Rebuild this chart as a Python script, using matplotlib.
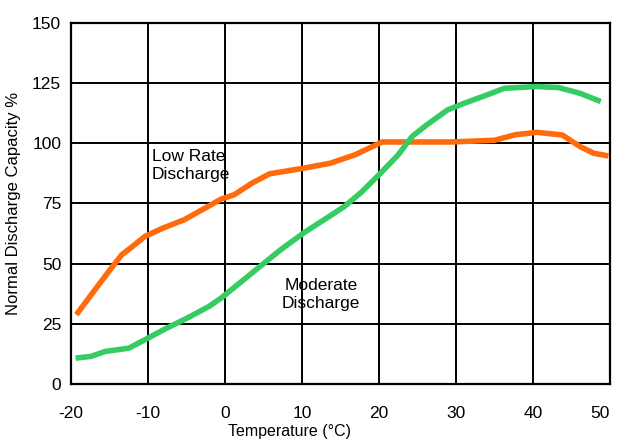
import numpy as np
import matplotlib
matplotlib.use("Agg")
import matplotlib.pyplot as plt

plt.rcParams['font.family'] = ['Liberation Sans', 'DejaVu Sans']
plt.rcParams['axes.unicode_minus'] = False

# capacity vs temperature
low_temp = [-19.3, -16.9, -14.6, -13.4, -12.3, -10.4, -8.1, -5.3, -3.0, -0.5, 1.2, 3.5, 5.8,
            10.2, 13.7, 16.9, 20.4, 24.8, 29.4, 35.0, 37.7, 40.5, 43.8, 46.1, 47.9, 49.8]
low_cap = [28.8, 39.1, 48.8, 53.7, 56.4, 61.3, 64.7, 68.2, 72.3, 76.8, 78.6, 83.4, 87.3,
           89.6, 91.7, 95.2, 100.5, 100.5, 100.5, 101.2, 103.5, 104.5, 103.4, 98.6, 95.8, 94.7]

mod_temp = [-19.4, -17.4, -15.5, -12.5, -10.4, -7.6, -4.9, -2.1, -0.5, 3.5, 7.2, 10.2, 13.2,
            15.5, 17.8, 20.4, 22.5, 24.3, 26.2, 28.9, 31.1, 34.0, 36.3, 40.5, 43.3, 46.1, 48.8]
mod_cap = [10.8, 11.5, 13.6, 14.9, 18.4, 23.2, 27.4, 32.2, 35.7, 46.1, 55.7, 62.7, 68.9,
           73.7, 79.9, 88.2, 95.2, 102.8, 107.6, 113.8, 116.6, 120.0, 122.8, 123.5, 123.1, 120.7, 117.3]

xticks = [-20, -10, 0, 10, 20, 30, 40, 50]
yticks = [0, 25, 50, 75, 100, 125, 150]

fig = plt.figure(figsize=(6.17, 4.41), dpi=100)
ax = fig.add_axes([0.115, 0.129, 0.8737, 0.8195])

ax.plot(low_temp, low_cap, color='#FF6A0A', lw=4, solid_capstyle='butt', zorder=3)
ax.plot(mod_temp, mod_cap, color='#36CC64', lw=4, solid_capstyle='butt', zorder=3)

ax.set_xlim(-20, 50)
ax.set_ylim(0, 150)
ax.set_xticks(xticks)
ax.set_yticks(yticks)
ax.grid(True, color='black', lw=1.4)
for s in ax.spines.values():
    s.set_linewidth(1.6)
ax.tick_params(length=0, labelsize=12.5)
ax.tick_params(axis='x', pad=16)
ax.tick_params(axis='y', pad=7)
# keep the last x label inside the figure
ax.get_xticklabels()[-1].set_horizontalalignment('right')

ax.set_xlabel('Temperature (°C)', fontsize=11.5)
ax.xaxis.set_label_coords(0.406, -0.11)
ax.set_ylabel('Normal Discharge Capacity %', fontsize=12)
ax.yaxis.set_label_coords(-0.092, 0.5)

ax.text(-9.5, 97.5, 'Low Rate\nDischarge', fontsize=12.5, ha='left', va='top',
        linespacing=1.25, zorder=4)
ax.text(12.5, 44, 'Moderate\nDischarge', fontsize=12.5, ha='center', va='top',
        linespacing=1.25, zorder=4)

fig.savefig('out.png', dpi=100)
